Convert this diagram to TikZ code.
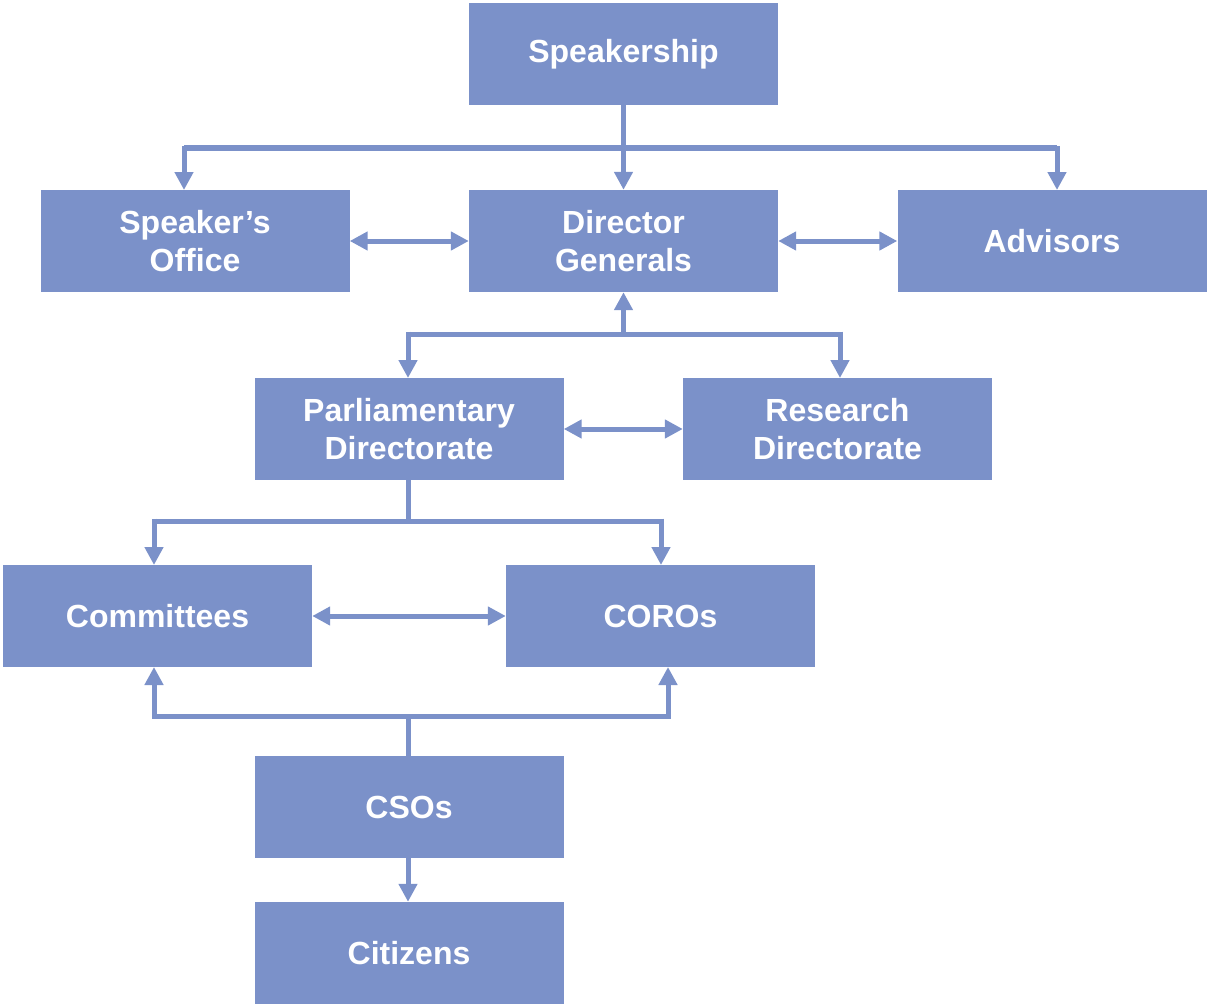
\documentclass[tikz,border=0pt]{standalone}
\usepackage{fontspec}
\setmainfont{Liberation Sans}
\usetikzlibrary{arrows.meta}
\definecolor{boxblue}{RGB}{123,145,201}
\tikzset{
  box/.style={fill=boxblue, draw=none, minimum width=309pt, minimum height=102pt, inner sep=0pt,
    text=white, align=center, font=\fontsize{32}{38}\selectfont\bfseries},
  conn/.style={draw=boxblue, line width=5pt, -{Triangle[length=18pt,width=18pt]}},
  biconn/.style={draw=boxblue, line width=5pt, {Triangle[length=18pt,width=18pt]}-{Triangle[length=18pt,width=18pt]}},
  plain/.style={draw=boxblue, line width=5pt}
}
\begin{document}
\begin{tikzpicture}[x=1pt,y=-1pt]
\useasboundingbox (0,0) rectangle (1207,1006);
\node[box] (spk) at (623.5,54) {Speakership};
\node[box] (so) at (195,241) {Speaker's\\Office};
\node[box] (dg) at (623.5,241) {Director\\Generals};
\node[box] (adv) at (1052,241) {Advisors};
\node[box] (pd) at (409,429) {Parliamentary\\Directorate};
\node[box] (rd) at (837.5,429) {Research\\Directorate};
\node[box] (com) at (157.5,616) {Committees};
\node[box] (cor) at (660.5,616) {COROs};
\node[box] (cso) at (409,807) {CSOs};
\node[box] (cit) at (409,953) {Citizens};
% Speakership to level 2
\coordinate (j1) at (623.5,148);
\draw[conn] (spk.south) -- (dg.north);
\draw[plain] (184,148) -- (1057,148);
\draw[conn] (184,146) -- (184,190);
\draw[conn] (1057,146) -- (1057,190);
\draw[biconn] (so.east) -- (dg.west);
\draw[biconn] (dg.east) -- (adv.west);
% DG to directorates
\coordinate (j2) at (623.5,334);
\draw[conn] (j2) -- (dg.south);
\draw[plain] (408,334) -- (840,334);
\draw[conn] (408,331.5) -- (408,378);
\draw[conn] (840,331.5) -- (840,378);
\draw[biconn] (pd.east) -- (rd.west);
% PD to committees/COROs
\coordinate (j3) at (408,521);
\draw[plain] (pd.south -| j3) -- (j3);
\draw[plain] (154,521) -- (661,521);
\draw[conn] (154,518.5) -- (154,565);
\draw[conn] (661,518.5) -- (661,565);
\draw[biconn] (com.east) -- (cor.west);
% CSOs up
\coordinate (j4) at (408,716);
\draw[plain] (cso.north -| j4) -- (j4);
\draw[plain] (154,716) -- (668,716);
\draw[conn] (154,718.5) -- (154,667);
\draw[conn] (668,718.5) -- (668,667);
\draw[conn] (cso.south -| j4) -- (cit.north -| j4);
\end{tikzpicture}
\end{document}
